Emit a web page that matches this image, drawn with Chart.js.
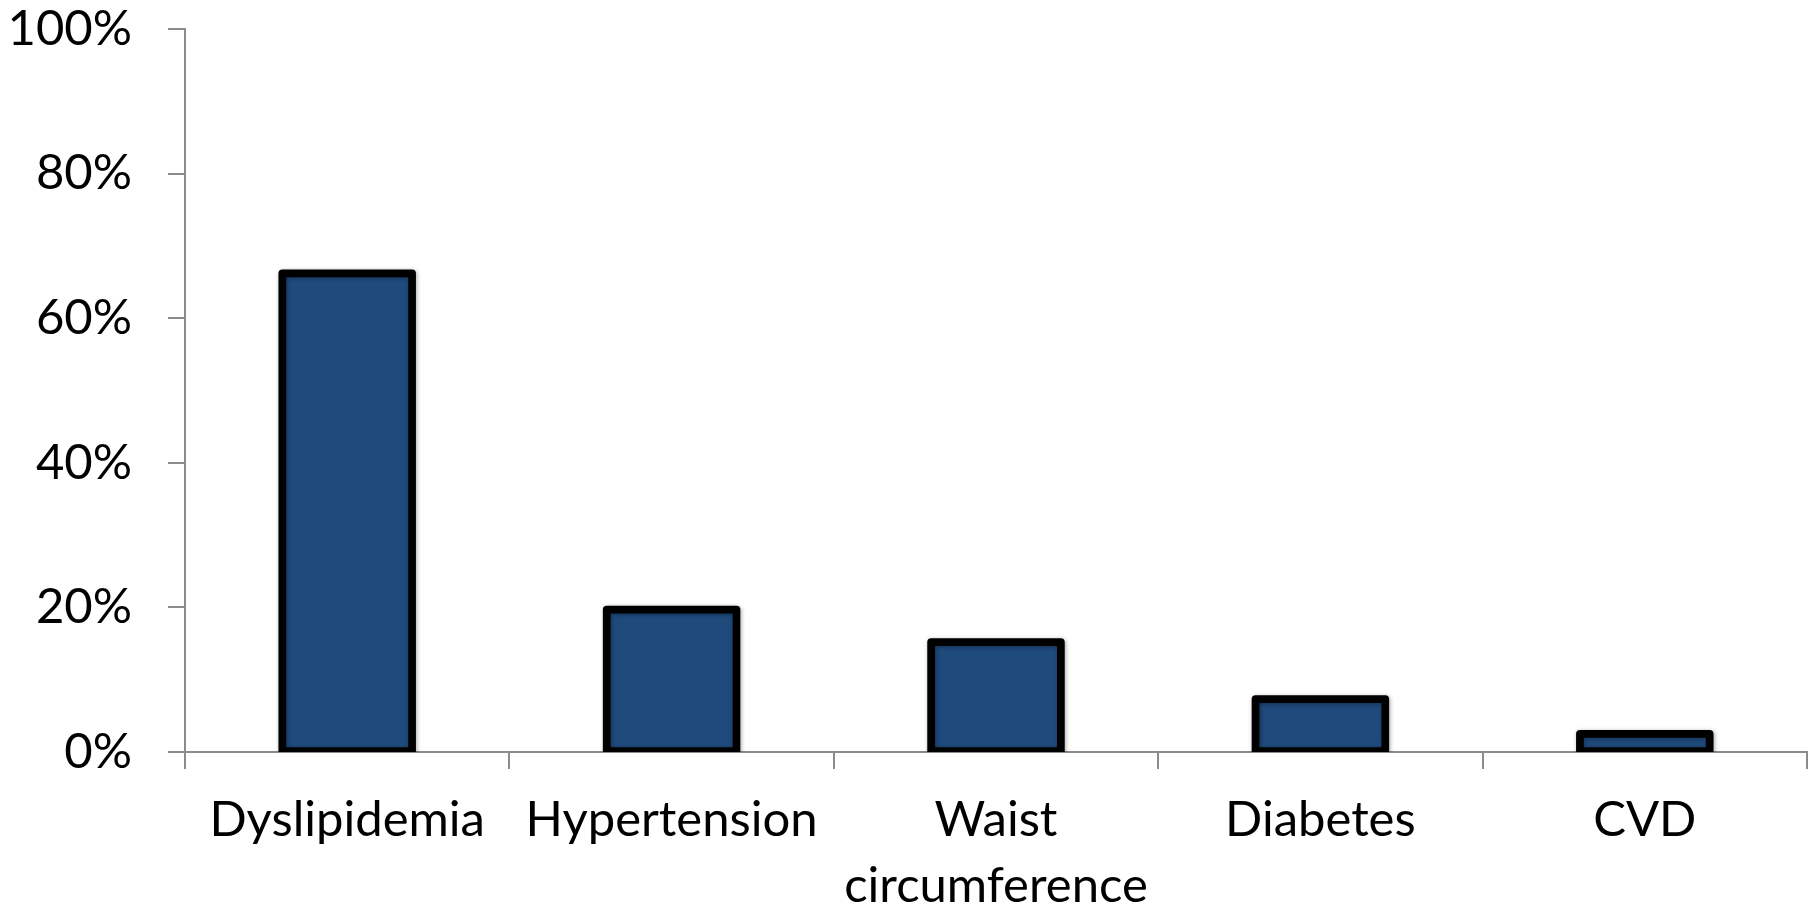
<!DOCTYPE html>
<html>
<head>
<meta charset="utf-8">
<script src="https://cdn.jsdelivr.net/npm/chart.js@4/dist/chart.umd.min.js"></script>
<style>
  html, body { margin: 0; padding: 0; background: #ffffff; }
  #wrap { width: 1816px; height: 907px; }
</style>
</head>
<body>
<div id="wrap"><canvas id="chart" width="1816" height="907"></canvas></div>
<script>
// Share of participants with each cardiometabolic risk factor
const categories = ['Dyslipidemia', 'Hypertension', ['Waist', 'circumference'], 'Diabetes', 'CVD'];
const prevalence = [66.2, 19.7, 15.2, 7.3, 2.5];
const yTicks = [0, 20, 40, 60, 80, 100];

const AXIS_GREY = '#8c8c8c';
const BAR_FILL = '#1f4a7c';
const OUTLINE_WIDTH = 7.7;

// Outline each bar with a stroke centred on its edges, rounded outside corners,
// clipped to the plot area so the bottom edge sits on the axis.
const barOutline = {
  id: 'barOutline',
  afterDatasetsDraw(chart) {
    const { ctx, chartArea } = chart;
    const meta = chart.getDatasetMeta(0);
    ctx.save();
    ctx.beginPath();
    ctx.rect(chartArea.left, chartArea.top - 20, chartArea.right - chartArea.left, chartArea.bottom - chartArea.top + 20);
    ctx.clip();
    ctx.lineWidth = OUTLINE_WIDTH;
    ctx.lineJoin = 'round';
    ctx.strokeStyle = '#000000';
    ctx.shadowColor = 'rgba(0,0,0,0.35)';
    ctx.shadowBlur = 4;
    ctx.shadowOffsetX = 1;
    ctx.shadowOffsetY = 1;
    meta.data.forEach(bar => {
      const p = bar.getProps(['x', 'y', 'base', 'width'], true);
      ctx.strokeRect(p.x - p.width / 2, p.y, p.width, p.base - p.y);
    });
    ctx.restore();
  }
};

new Chart(document.getElementById('chart'), {
  type: 'bar',
  data: {
    labels: categories,
    datasets: [{
      data: prevalence,
      backgroundColor: BAR_FILL,
      borderWidth: 0,
      barPercentage: 0.4,
      categoryPercentage: 1.0
    }]
  },
  options: {
    responsive: false,
    animation: false,
    devicePixelRatio: 1,
    layout: { padding: { top: 29, right: 9, left: 0, bottom: 0 } },
    plugins: {
      legend: { display: false },
      tooltip: { enabled: false }
    },
    scales: {
      x: {
        afterFit(scale) {
          scale.height = 155;
          scale.paddingLeft = 0;
          scale.paddingRight = 0;
        },
        border: { display: true, color: AXIS_GREY, width: 2 },
        grid: {
          display: true,
          offset: true,
          drawOnChartArea: false,
          drawTicks: true,
          tickLength: 17,
          color: AXIS_GREY,
          lineWidth: 2
        },
        ticks: {
          color: '#000000',
          padding: 18,
          maxRotation: 0,
          autoSkip: false,
          font: { family: 'Lato', size: 49, lineHeight: 1.35 }
        }
      },
      y: {
        min: 0,
        max: 100,
        afterFit(scale) {
          scale.width = 185;
          scale.paddingTop = 0;
          scale.paddingBottom = 0;
        },
        afterBuildTicks(scale) { scale.ticks = yTicks.map(v => ({ value: v })); },
        border: { display: true, color: AXIS_GREY, width: 2 },
        grid: {
          display: true,
          drawOnChartArea: false,
          drawTicks: true,
          tickLength: 17,
          color: AXIS_GREY,
          lineWidth: 2
        },
        ticks: {
          color: '#000000',
          padding: 36,
          font: { family: 'Lato', size: 49 },
          callback: v => v + '%'
        }
      }
    }
  },
  plugins: [barOutline]
});
</script>
</body>
</html>
